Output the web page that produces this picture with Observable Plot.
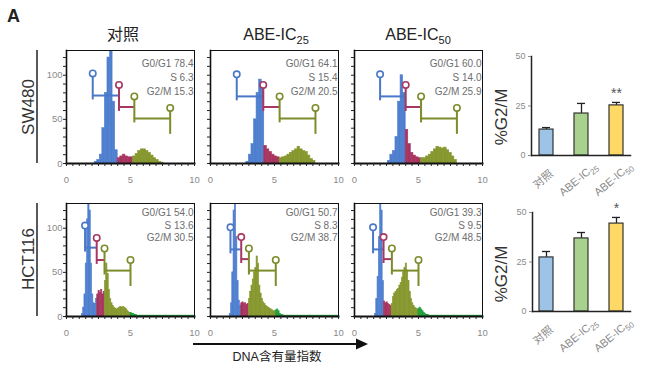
<!DOCTYPE html>
<html><head><meta charset="utf-8">
<script src="https://cdn.jsdelivr.net/npm/d3@7"></script>
<script src="https://cdn.jsdelivr.net/npm/@observablehq/plot@0.6"></script>
<style>
body{margin:0;background:#fff;}
#c{position:relative;width:650px;height:369px;overflow:hidden;font-family:"Liberation Sans","Noto Sans CJK SC",sans-serif;}
.p{position:absolute;}
.p svg{background:transparent;overflow:visible;}
</style></head>
<body><div id="c"></div>
<script>
// ---------- data ----------
const conditionLabels = ["对照", "ABE-IC₂₅", "ABE-IC₅₀"];
const cellLines = ["SW480", "HCT116"];
const axisTitle = "DNA含有量指数";
const barAxisTitle = "%G2/M";
const histXTicks = [0, 5, 10];
const histYTicks = [0, 50, 100];
const barYTicks = [0, 25, 50];

// SW480 DNA histograms (bin width 0.2, first bin start)
const swBinWidth = 0.2;
const swStart = [2.2, 2.8, 2.6];
const swCtrl = [2,4,10,40,80,120,140,70,15, 6,8,10,8,7,7, 8,11,14,16,16,14,12,9,6,4,2,1];
const swIC25 = [2,10,22,50,80,95,90, 20,16,13,10,8,7, 6,7,8,10,12,14,16,19,16,14,13,9,5,3];
const swIC50 = [3,10,14,30,70,100,80, 38,22,12,9,7,6, 6,6,8,10,13,16,19,18,17,18,15,12,8,4];

// HCT116 DNA histograms (bin width 0.1, first bin start)
const hctBinWidth = 0.1;
const hctStart = [1.2, 1.5, 1.6];
const hctCtrl = [3,10,25,60,110,140,120,60,25,15,14,20,25,29,27,30,25,28,40,60,48,30,20,15,12,10,9,8,9,10,11,10,11,10,9,7,5,4,4,3,3,2,1.5];
const hctIC25 = [3,15,50,120,140,90,40,18,12,15,16,14,15,13,14,20,28,35,42,50,55,68,60,35,26,20,16,14,12,11,10,9,8,7,6,6,7,8,6,3,2,1.5];
const hctIC50 = [3,20,45,90,140,120,40,17,15,16,14,13,12,14,22,26,28,30,31,35,38,44,50,55,60,52,40,28,20,15,12,10,9,8,9,10,8,6,4,3,2,1.5];
const hctTail = [1, 1, 1];

// gate boundaries and gate bar heights
const swGates = [[2.05,4.1,5.3,8.1],[2.05,4.12,5.4,8.2],[2.0,4.0,5.2,8.0]];
const swGateY = [[77,64,51],[76,64,51],[76,64,51]];
const hctGates = [[1.45,2.36,2.97,5.0],[1.56,2.4,3.0,5.1],[1.45,2.27,2.92,5.0]];
const hctGateY = [[78,64,52],[76,65,52],[76,65,52]];

// phase percentages
const swG1 = [78.4, 64.1, 60.0], swS = [6.3, 15.4, 14.0], swG2M = [15.3, 20.5, 25.9];
const hctG1 = [54.0, 50.7, 39.3], hctS = [13.6, 8.3, 9.5], hctG2M = [30.5, 38.7, 48.5];

// %G2/M bar charts
const swBarMean = [13.1, 21.2, 25.3], swBarErr = [1.0, 5.1, 1.5], swSig = ["", "", "**"];
const hctBarMean = [27.3, 36.9, 44.4], hctBarErr = [3.0, 3.0, 3.1], hctSig = ["", "", "*"];

// ---------- styles ----------
const phaseFill = ["#4f7fcf", "#a7355f", "#86972e", "#1f9e3a"];
const gateStroke = ["#4a78c6", "#a63862", "#7c8c2a"];
const barFill = ["#9dc3e6", "#a9d18e", "#ffd966"];
const FONT = '"Liberation Sans","Noto Sans CJK SC",sans-serif';
const grey = "#8a8a8a";

const root = document.getElementById("c");
function place(el, left, top) {
  const d = document.createElement("div");
  d.className = "p"; d.style.left = left + "px"; d.style.top = top + "px";
  d.appendChild(el); root.appendChild(d);
}
// split "ABE-IC₂₅" into base + normal-digit subscript
function splitSub(t) {
  const m = t.match(/^(.*?)([\u2080-\u2089]+)$/);
  if (!m) return [t, ""];
  return [m[1], Array.from(m[2]).map(ch => String.fromCharCode(ch.charCodeAt(0) - 0x2080 + 48)).join("")];
}
function subText(sel, t, subSize, subDy) {
  const [b, s] = splitSub(t);
  sel.append("tspan").text(b);
  if (s) sel.append("tspan").attr("font-size", subSize).attr("dy", subDy).text(s);
}

function histPanel(o) {
  const bins = o.counts.map((c, i) => {
    const x0 = o.start + i * o.bw;
    const mid = Math.round((x0 + o.bw / 2) * 1000) / 1000;
    let p = 0; while (p < 3 && mid >= o.gates[p + 1]) p++;
    return {x0, x1: x0 + o.bw, y: c, f: phaseFill[p]};
  });
  if (o.tail) bins.push({x0: o.start + o.counts.length * o.bw, x1: 10, y: o.tail, f: phaseFill[3]});
  const segs = [0, 1, 2].map(i => ({x1: o.gates[i], x2: o.gates[i + 1], y: o.gateY[i], c: gateStroke[i]}));
  const verts = segs.map(g => ({x: g.x1, y1: g.y - 5, y2: g.y + 25, c: g.c}));
  verts.push({x: o.gates[3], y1: o.gateY[2] - 18, y2: o.gateY[2] + 12, c: gateStroke[2]});
  const stats = `G0/G1 ${o.g1.toFixed(1)}\nS ${o.s.toFixed(1)}\nG2/M ${o.g2m.toFixed(1)}`;
  return Plot.plot({
    width: 178, height: 151, marginLeft: 40, marginRight: 10, marginTop: 10, marginBottom: 28,
    x: {domain: [0, 10]}, y: {domain: [0, 128]}, color: {type: "identity"},
    style: {background: "transparent", overflow: "visible", fontFamily: FONT, fontSize: "9.5px"},
    marks: [
      Plot.rectY(bins, {x1: "x0", x2: "x1", y: "y", fill: "f", stroke: "f", strokeWidth: 0.6, inset: 0, clip: true}),
      Plot.ruleY(segs, {y: "y", x1: "x1", x2: "x2", stroke: "c", strokeWidth: 2}),
      Plot.ruleX(verts, {x: "x", y1: "y1", y2: "y2", stroke: "c", strokeWidth: 2}),
      Plot.dot(verts, {x: "x", y: "y2", r: 3.2, stroke: "c", fill: "white", strokeWidth: 1.6}),
      Plot.text([stats], {frameAnchor: "top-right", text: d => d, lineAnchor: "top", textAnchor: "end",
        dx: -1, dy: o.textDy, fontSize: 10, fill: "#6e6e6e", lineHeight: o.lineH}),
      Plot.frame({stroke: "#111", strokeWidth: 1}),
      Plot.frame({anchor: "bottom", stroke: "#111", strokeWidth: 2}),
      Plot.frame({anchor: "left", stroke: "#111", strokeWidth: 1.6}),
      Plot.axisX({ticks: d3.range(0, 10.01, 0.5), tickSize: 3, tickFormat: () => "", label: null, stroke: "#222"}),
      Plot.axisX({ticks: histXTicks, tickSize: 0, tickPadding: 13, fontSize: 9.5, color: grey, label: null}),
      Plot.axisY({ticks: d3.range(0, 121, 10), tickSize: 3, tickFormat: () => "", label: null, stroke: "#222"}),
      o.showY ? Plot.axisY({ticks: histYTicks, tickSize: 0, tickPadding: 4, fontSize: 9.5, color: grey, label: null}) : null
    ]
  });
}

const colLeft = [66, 210, 354];
const rowTop = [50, 203];
const rows = [
  {counts: [swCtrl, swIC25, swIC50], start: swStart, bw: swBinWidth, gates: swGates, gateY: swGateY,
   g1: swG1, s: swS, g2m: swG2M, tail: null, lineH: 1.4, textDy: 7},
  {counts: [hctCtrl, hctIC25, hctIC50], start: hctStart, bw: hctBinWidth, gates: hctGates, gateY: hctGateY,
   g1: hctG1, s: hctS, g2m: hctG2M, tail: hctTail, lineH: 1.25, textDy: 4}
];
rows.forEach((r, ri) => {
  for (let ci = 0; ci < 3; ci++) {
    const svg = histPanel({
      counts: r.counts[ci], start: r.start[ci], bw: r.bw, gates: r.gates[ci], gateY: r.gateY[ci],
      g1: r.g1[ci], s: r.s[ci], g2m: r.g2m[ci], tail: r.tail ? r.tail[ci] : null,
      lineH: r.lineH, textDy: r.textDy, showY: ci === 0
    });
    place(svg, colLeft[ci] - 40, rowTop[ri] - 10);
  }
});

function barPanel(o) {
  const data = conditionLabels.map((c, i) => ({c, m: o.means[i], e: o.errs[i], s: o.sig[i], f: barFill[i]}));
  return Plot.plot({
    width: 160, height: o.height, marginLeft: o.ml, marginRight: 20, marginTop: o.mt, marginBottom: o.mb,
    x: {domain: conditionLabels, paddingInner: 0.6, paddingOuter: 0.2, axis: null},
    y: {domain: [0, 50]}, color: {type: "identity"},
    style: {background: "transparent", overflow: "visible", fontFamily: FONT, fontSize: "9px"},
    marks: [
      Plot.ruleX(data, {x: "c", y1: "m", y2: d => d.m + d.e, stroke: "#222", strokeWidth: 1.3}),
      Plot.tickY(data, {x: "c", y: d => d.m + d.e, stroke: "#222", strokeWidth: 1.3, inset: 3}),
      Plot.barY(data, {x: "c", y: "m", fill: "f", stroke: "#333", strokeWidth: 1.2}),
      Plot.text(data, {x: "c", y: d => d.m + d.e, text: "s", dy: -9, fontSize: 14, fill: "#555"}),
      Plot.frame({anchor: "left", stroke: "#222", strokeWidth: 1.5}),
      Plot.frame({anchor: "bottom", stroke: "#222", strokeWidth: 1.5}),
      Plot.axisY({ticks: barYTicks, tickSize: 3, tickPadding: 3, fontSize: 9, color: grey, label: null})
    ]
  });
}
const barSpecs = [
  {means: swBarMean, errs: swBarErr, sig: swSig, height: 170, ml: 41, mt: 16, mb: 55, left: 490, top: 40},
  {means: hctBarMean, errs: hctBarErr, sig: hctSig, height: 174, ml: 42, mt: 17, mb: 58, left: 490, top: 195}
];
const barPlots = barSpecs.map(b => { const p = barPanel(b); place(p, b.left, b.top); return p; });

// ---------- annotations ----------
const ann = d3.select(root).append("svg").attr("width", 650).attr("height", 369)
  .style("position", "absolute").style("left", 0).style("top", 0).style("pointer-events", "none")
  .attr("font-family", FONT);
ann.append("text").attr("x", 7).attr("y", 22).attr("font-size", 18).attr("font-weight", "bold").attr("fill", "#222").text("A");
const titleX = [123, 276, 418];
conditionLabels.forEach((t, i) => {
  const [b, s] = splitSub(t);
  ann.append("text").attr("x", titleX[i]).attr("y", 40).attr("text-anchor", "middle")
    .attr("font-size", 16).attr("fill", "#222").call(subText, t, 11, 4);
});
// rotated category labels under the bar charts, placed with the plots' own x scales
barPlots.forEach((p, k) => {
  const sx = p.scale("x");
  const spec = barSpecs[k];
  const axisY = spec.top + spec.height - spec.mb;
  conditionLabels.forEach(c => {
    const cx = spec.left + sx.apply(c) + sx.bandwidth / 2;
    ann.append("text").attr("transform", `translate(${cx - 3},${axisY + 24}) rotate(-40)`)
      .attr("text-anchor", "middle").attr("dy", "0.35em").attr("font-size", 11).attr("fill", grey)
      .call(subText, c, 8, 3);
  });
});
const rowCenter = [107, 259];
cellLines.forEach((t, i) => {
  ann.append("text").attr("transform", `translate(28,${rowCenter[i]}) rotate(-90)`)
    .attr("text-anchor", "middle").attr("dy", "0.35em").attr("font-size", 17).attr("fill", "#333").text(t);
  ann.append("line").attr("x1", 37).attr("x2", 37).attr("y1", rowTop[i]).attr("y2", rowTop[i] + 113)
    .attr("stroke", "#222").attr("stroke-width", 1.5);
});
ann.append("line").attr("x1", 193).attr("x2", 360).attr("y1", 344).attr("y2", 344).attr("stroke", "#111").attr("stroke-width", 2);
ann.append("path").attr("d", "M368,344L356,338.5L356,349.5Z").attr("fill", "#111");
ann.append("text").attr("x", 277).attr("y", 361).attr("text-anchor", "middle").attr("font-size", 12.5).attr("fill", "#222").text(axisTitle);
[117, 274].forEach(cy => {
  ann.append("text").attr("transform", `translate(501,${cy}) rotate(-90)`).attr("text-anchor", "middle")
    .attr("dy", "0.35em").attr("font-size", 17).attr("fill", "#333").text(barAxisTitle);
});
</script></body></html>
